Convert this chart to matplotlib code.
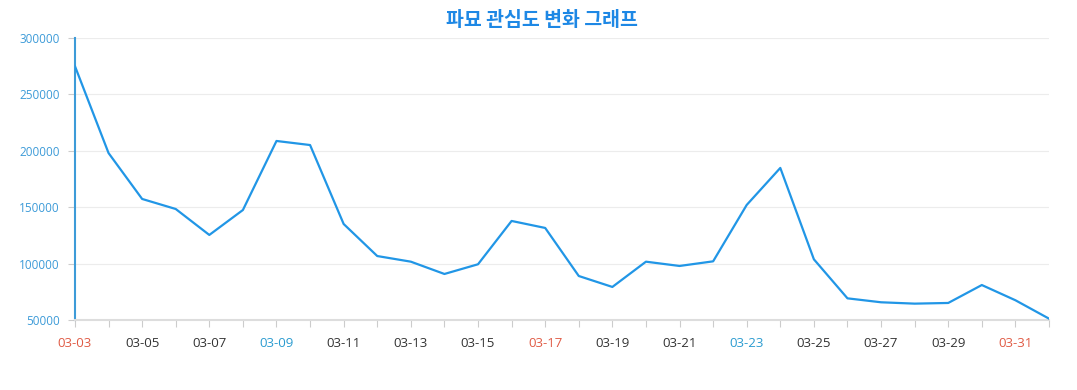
import matplotlib

matplotlib.use("Agg")
import matplotlib.pyplot as plt

# 날짜 라벨 (03-03 ~ 04-01)
dates = ["03-03", "03-04", "03-05", "03-06", "03-07", "03-08", "03-09", "03-10",
         "03-11", "03-12", "03-13", "03-14", "03-15", "03-16", "03-17", "03-18",
         "03-19", "03-20", "03-21", "03-22", "03-23", "03-24", "03-25", "03-26",
         "03-27", "03-28", "03-29", "03-30", "03-31", "04-01"]
interest = [275000, 198000, 157300, 148400, 125400, 147500, 208700, 205100,
            135100, 106700, 101700, 90800, 99400, 137800, 131600, 89000,
            79300, 101700, 97900, 102000, 152000, 184800, 103800, 69200,
            65700, 64500, 65100, 81000, 67500, 51200]
yticks = [50000, 100000, 150000, 200000, 250000, 300000]
red_days = ["03-03", "03-17", "03-31"]
blue_days = ["03-09", "03-23"]

BLUE = "#2196e6"
AXBLUE = "#3d9bd8"

plt.rcParams["font.family"] = ["Open Sans", "Noto Sans CJK KR", "DejaVu Sans"]

fig = plt.figure(figsize=(10.77, 3.9), dpi=100)
ax = fig.add_axes([0.0696, 0.1795, 0.9044, 0.7231])

x = list(range(len(dates)))
ax.plot(x, interest, color=BLUE, lw=1.6, zorder=3)

ax.set_xlim(0, len(dates) - 1)
ax.set_ylim(50000, 300000)
ax.set_yticks(yticks)
ax.set_yticklabels([str(v) for v in yticks], color=AXBLUE, fontsize=8.5)
ax.grid(axis="y", color="#ececec", lw=0.8)
ax.set_axisbelow(True)

ax.set_xticks(x)
ax.set_xticklabels([d if i % 2 == 0 else "" for i, d in enumerate(dates)], fontsize=9.5)
for lbl, d in zip(ax.get_xticklabels(), dates):
    if d in red_days:
        lbl.set_color("#e05a44")
    elif d in blue_days:
        lbl.set_color("#2a9bd0")
    else:
        lbl.set_color("#333333")

ax.tick_params(axis="x", length=5, color="#cccccc", pad=7)
ax.tick_params(axis="y", length=5, color="#cccccc", pad=6)

for s in ["top", "right"]:
    ax.spines[s].set_visible(False)
ax.spines["left"].set_color(AXBLUE)
ax.spines["left"].set_linewidth(1.5)
ax.spines["bottom"].set_color("#dddddd")
ax.spines["bottom"].set_linewidth(1.5)

fig.text(0.503, 0.947, "파묘 관심도 변화 그래프", ha="center", va="center",
         fontsize=14, fontweight="bold", color="#1e88e5",
         family=["Noto Sans CJK KR", "DejaVu Sans"])

fig.savefig("out.png", dpi=100)
